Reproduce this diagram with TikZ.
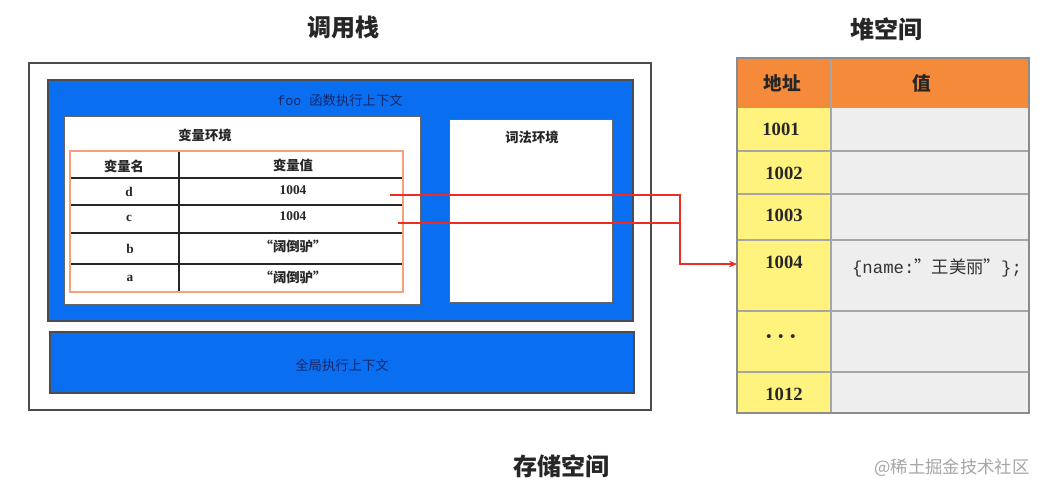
\documentclass[tikz,border=0pt]{standalone}
\usepackage{fontspec}
\setmainfont{Liberation Serif}
\setmonofont{Liberation Mono}
\newfontfamily\cjk{Noto Sans CJK SC}
\usetikzlibrary{arrows.meta}
\definecolor{ctxblue}{RGB}{10,110,240}
\definecolor{ctxtext}{RGB}{20,40,110}
\definecolor{heaphead}{RGB}{245,138,58}
\definecolor{heapaddr}{RGB}{255,243,125}
\definecolor{heapval}{RGB}{238,238,238}
\definecolor{tblorange}{RGB}{245,160,120}
\definecolor{arrowred}{RGB}{235,45,35}
\tikzset{
  title/.style={font=\cjk\bfseries\fontsize{18}{20}\selectfont, text=black!85},
  ctxbox/.style={fill=ctxblue, draw=black!70, line width=0.8pt},
  whitebox/.style={fill=white, draw=black!60, line width=0.6pt},
  ctxlabel/.style={font=\cjk\fontsize{10}{12}\selectfont, text=ctxtext},
  envlabel/.style={font=\cjk\bfseries\fontsize{10}{12}\selectfont, text=black!85},
  cell/.style={font=\bfseries\fontsize{10}{12}\selectfont, text=black!85},
  cjkcell/.style={font=\cjk\bfseries\fontsize{10}{12}\selectfont, text=black!85},
  rowline/.style={draw=black!85, line width=0.8pt},
  heaplabel/.style={font=\bfseries\fontsize{14}{16}\selectfont, text=black!85},
  heapline/.style={draw=black!35, line width=0.8pt},
  link/.style={draw=arrowred, line width=1pt},
}
\begin{document}
\begin{tikzpicture}[x=0.75pt,y=-0.75pt]
\useasboundingbox (0,0) rectangle (1040,487);
\fill[white] (0,0) rectangle (1040,487);

% titles
\node[title] (tstack) at (343,27) {调用栈};
\node[title] (theap) at (886,29) {堆空间};
\node[title] (tstore) at (561,466) {存储空间};
\node[font=\cjk\fontsize{13}{15}\selectfont, text=black!35] (wm) at (952,468) {@稀土掘金技术社区};

% outer call stack frame
\draw[fill=white, draw=black!70, line width=0.8pt] (29,63) rectangle (651,410);

% foo execution context
\draw[ctxbox] (48,80) rectangle (633,321);
\node[ctxlabel] (foolabel) at (340,100) {\fontspec{Liberation Mono}foo\ \cjk 函数执行上下文};

% variable environment
\draw[whitebox] (64,116) rectangle (420,304);
\node[envlabel] (venv) at (205,135) {变量环境};

% variable table
\fill[white] (70,151) rectangle (403,292);
\draw[rowline] (179,151) -- (179,292);
\draw[rowline] (70,178) -- (403,178);
\draw[rowline] (70,205) -- (403,205);
\draw[rowline] (70,233) -- (403,233);
\draw[rowline] (70,264) -- (403,264);
\draw[draw=tblorange, line width=0.8pt] (70,151) rectangle (403,292);
\node[cjkcell] (hname) at (124,166) {变量名};
\node[cjkcell] (hval) at (293,165) {变量值};
\node[cell] (nd) at (129,192) {d};
\node[cell] (vd) at (293,190) {1004};
\node[cell] (nc) at (129,218) {c};
\node[cell] (vc) at (293,216) {1004};
\node[cell] (nb) at (130,249) {b};
\node[cjkcell] (vb) at (293,246) {“阔倒驴”};
\node[cell] (na) at (130,278) {a};
\node[cjkcell] (va) at (293,277) {“阔倒驴”};

% lexical environment
\draw[whitebox] (449,119) rectangle (612,302);
\node[envlabel] (lenv) at (532,137) {词法环境};

% global execution context
\draw[ctxbox] (50,332) rectangle (634,393);
\node[ctxlabel] (glabel) at (342,365) {全局执行上下文};

% heap table
\fill[heaphead] (737,58) rectangle (1029,108);
\fill[heapaddr] (737,108) rectangle (831,413);
\fill[heapval] (831,108) rectangle (1029,413);
\foreach \yy in {151,194,240,311,372} {
  \draw[heapline] (737,\yy) -- (1029,\yy);
}
\draw[heapline] (831,58) -- (831,413);
\draw[draw=black!45, line width=0.8pt] (737,58) rectangle (1029,413);
\node[font=\cjk\bfseries\fontsize{14}{16}\selectfont, text=black!85] (haddr) at (782,83) {地址};
\node[font=\cjk\bfseries\fontsize{14}{16}\selectfont, text=black!85] (hvalue) at (922,83) {值};
\node[heaplabel] (a1001) at (781,129) {1001};
\node[heaplabel] (a1002) at (784,173) {1002};
\node[heaplabel] (a1003) at (784,215) {1003};
\node[heaplabel] (a1004) at (784,262) {1004};
\node[font=\bfseries\fontsize{18}{20}\selectfont, text=black!85] (adots) at (781,340) {·\,·\,·};
\node[heaplabel] (a1012) at (784,394) {1012};
\node[font=\fontsize{13}{15}\selectfont, text=black!80] (obj) at (937,268)
  {\ttfamily\{name:\cjk ”王美丽”\ttfamily\};};
\coordinate (rowtarget) at (737,264);

% references
\coordinate (dstart) at (390,195);
\coordinate (cstart) at (398,223);
\coordinate (bend) at (680,195);
\coordinate (cjoin) at (680,223);
\coordinate (bend2) at (680,264);
\draw[link, -{Stealth[length=6pt,width=5pt]}] (dstart) -- (bend) -- (bend2) -- (rowtarget);
\draw[link] (cstart) -- (cjoin);
\end{tikzpicture}
\end{document}
